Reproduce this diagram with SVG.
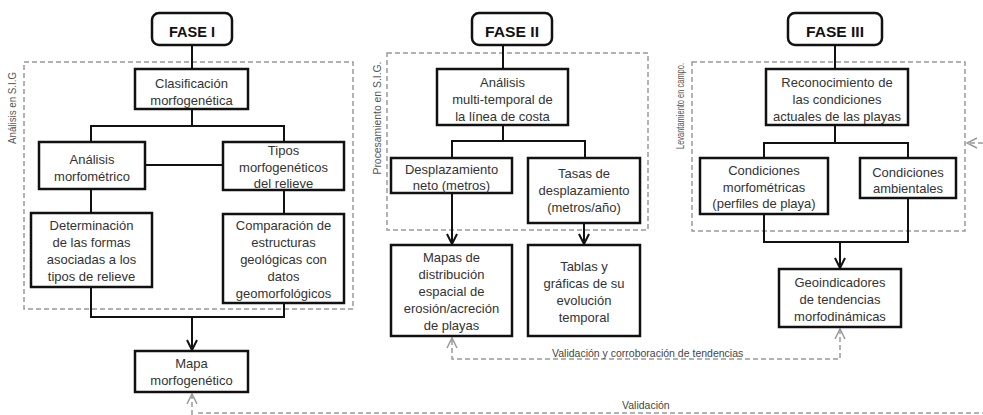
<svg xmlns="http://www.w3.org/2000/svg" width="983" height="415" viewBox="0 0 983 415">
<style>
  .box{fill:#fff;stroke:#111;stroke-width:2.5}
  .phase{fill:#fff;stroke:#111;stroke-width:2.5}
  .t{font-family:"Liberation Sans",Arial,sans-serif;font-size:13px;fill:#333;text-anchor:middle}
  .ph{font-family:"Liberation Sans",Arial,sans-serif;font-size:15.5px;font-weight:bold;fill:#111;text-anchor:middle}
  .lab{font-family:"Liberation Sans",Arial,sans-serif;font-size:10.5px;fill:#555;text-anchor:middle}
  .val{font-family:"Liberation Sans",Arial,sans-serif;font-size:10.5px;fill:#444}
  .con{fill:none;stroke:#111;stroke-width:2}
  .dash{fill:none;stroke:#999;stroke-width:1.5;stroke-dasharray:5 3}
  .frame{fill:none;stroke:#999;stroke-width:1.5;stroke-dasharray:5 3}
</style>
<defs>
  <marker id="arr" viewBox="0 0 12 12" refX="11" refY="6" markerWidth="12" markerHeight="12" orient="auto" markerUnits="userSpaceOnUse">
    <path d="M1,1 L11,6 L1,11" fill="none" stroke="#111" stroke-width="2"/>
  </marker>
  <marker id="garr" viewBox="0 0 12 12" refX="11" refY="6" markerWidth="12" markerHeight="12" orient="auto-start-reverse" markerUnits="userSpaceOnUse">
    <path d="M1,1 L11,6 L1,11" fill="none" stroke="#999" stroke-width="1.5"/>
  </marker>
</defs>
<rect width="983" height="415" fill="#fff"/>

<!-- dashed frames -->
<g id="frames">
  <rect class="frame" x="24" y="62" width="329" height="247"/>
  <rect class="frame" x="387" y="53" width="261" height="177"/>
  <rect class="frame" x="692" y="62" width="273" height="169"/>
  <text class="lab" transform="translate(16,108) rotate(-90)" textLength="72" lengthAdjust="spacingAndGlyphs">Análisis en S.I.G</text>
  <text class="lab" transform="translate(381,118) rotate(-90)" textLength="113" lengthAdjust="spacingAndGlyphs">Procesamiento en S.I.G.</text>
  <text class="lab" transform="translate(684,106) rotate(-90)" textLength="86" lengthAdjust="spacingAndGlyphs">Levantamiento en campo.</text>
</g>

<!-- connectors -->
<g id="connectors">
  <path class="con" d="M192 45 V69"/>
  <path class="con" d="M192 109 V126 M91 142 V126 H284 V142"/>
  <path class="con" d="M145 165 H223"/>
  <path class="con" d="M91 189 V213 M284 190 V214"/>
  <path class="con" d="M91 287 V317 H284 V303"/>
  <path class="con" d="M192 317 V350" marker-end="url(#arr)"/>

  <path class="con" d="M503 45 V69"/>
  <path class="con" d="M503 125 V141 M452 158 V141 H585 V158"/>
  <path class="con" d="M452 193 V244" marker-end="url(#arr)"/>
  <path class="con" d="M584 223 V244" marker-end="url(#arr)"/>

  <path class="con" d="M835 45 V69"/>
  <path class="con" d="M835 125 V143 M764 158 V143 H908 V158"/>
  <path class="con" d="M764 214 V242 H908 V198"/>
  <path class="con" d="M840 242 V268" marker-end="url(#arr)"/>

  <path class="dash" d="M840 329 V359 H452 V338" marker-start="url(#garr)" marker-end="url(#garr)"/>
  <path class="dash" d="M192 415 V394" marker-end="url(#garr)"/>
  <path class="dash" d="M198 413 H983"/>
  <path class="dash" d="M983 143 H967" marker-end="url(#garr)"/>
  <text class="val" x="552" y="357">Validación y corroboración de tendencias</text>
  <text class="val" x="622" y="409">Validación</text>
</g>

<!-- FASE I -->
<g id="fase1">
  <rect class="phase" x="152" y="13" width="80" height="32" rx="7"/>
  <text class="ph" x="192" y="37" textLength="46" lengthAdjust="spacingAndGlyphs">FASE I</text>
</g>
<g id="clasificacion">
  <rect class="box" x="135" y="69" width="113" height="40"/>
  <text class="t" x="191.5" y="88">Clasificación</text>
  <text class="t" x="191.5" y="105">morfogenética</text>
</g>
<g id="analisis-morfometrico">
  <rect class="box" x="39" y="142" width="106" height="47"/>
  <text class="t" x="92" y="164">Análisis</text>
  <text class="t" x="92" y="181">morfométrico</text>
</g>
<g id="tipos">
  <rect class="box" x="223" y="142" width="121" height="48"/>
  <text class="t" x="283.5" y="155">Tipos</text>
  <text class="t" x="283.5" y="172">morfogenéticos</text>
  <text class="t" x="283.5" y="188">del relieve</text>
</g>
<g id="determinacion">
  <rect class="box" x="31" y="213" width="121" height="74"/>
  <text class="t" x="91.5" y="230">Determinación</text>
  <text class="t" x="91.5" y="247">de las formas</text>
  <text class="t" x="91.5" y="264">asociadas a los</text>
  <text class="t" x="91.5" y="281">tipos de relieve</text>
</g>
<g id="comparacion">
  <rect class="box" x="223" y="214" width="121" height="89"/>
  <text class="t" x="283.5" y="230">Comparación de</text>
  <text class="t" x="283.5" y="247">estructuras</text>
  <text class="t" x="283.5" y="264">geológicas con</text>
  <text class="t" x="283.5" y="281">datos</text>
  <text class="t" x="283.5" y="298">geomorfológicos</text>
</g>
<g id="mapa">
  <rect class="box" x="135" y="351" width="113" height="41"/>
  <text class="t" x="191.5" y="368">Mapa</text>
  <text class="t" x="191.5" y="385">morfogenético</text>
</g>

<!-- FASE II -->
<g id="fase2">
  <rect class="phase" x="472" y="13" width="80" height="32" rx="7"/>
  <text class="ph" x="512" y="37" textLength="54" lengthAdjust="spacingAndGlyphs">FASE II</text>
</g>
<g id="analisis-multitemporal">
  <rect class="box" x="437" y="69" width="131" height="56"/>
  <text class="t" x="502.5" y="87">Análisis</text>
  <text class="t" x="502.5" y="104">multi-temporal de</text>
  <text class="t" x="502.5" y="121">la línea de costa</text>
</g>
<g id="desplazamiento">
  <rect class="box" x="391" y="158" width="121" height="35"/>
  <text class="t" x="451.5" y="174">Desplazamiento</text>
  <text class="t" x="451.5" y="190">neto (metros)</text>
</g>
<g id="tasas">
  <rect class="box" x="528" y="158" width="112" height="65"/>
  <text class="t" x="584" y="178">Tasas de</text>
  <text class="t" x="584" y="195">desplazamiento</text>
  <text class="t" x="584" y="212">(metros/año)</text>
</g>
<g id="mapas">
  <rect class="box" x="391" y="245" width="121" height="91"/>
  <text class="t" x="451.5" y="262">Mapas de</text>
  <text class="t" x="451.5" y="279">distribución</text>
  <text class="t" x="451.5" y="296">espacial de</text>
  <text class="t" x="451.5" y="313">erosión/acreción</text>
  <text class="t" x="451.5" y="330">de playas</text>
</g>
<g id="tablas">
  <rect class="box" x="528" y="245" width="112" height="91"/>
  <text class="t" x="584" y="271">Tablas y</text>
  <text class="t" x="584" y="288">gráficas de su</text>
  <text class="t" x="584" y="305">evolución</text>
  <text class="t" x="584" y="322">temporal</text>
</g>

<!-- FASE III -->
<g id="fase3">
  <rect class="phase" x="788" y="13" width="94" height="32" rx="7"/>
  <text class="ph" x="835" y="37" textLength="58" lengthAdjust="spacingAndGlyphs">FASE III</text>
</g>
<g id="reconocimiento">
  <rect class="box" x="766" y="69" width="142" height="56"/>
  <text class="t" x="837" y="87">Reconocimiento de</text>
  <text class="t" x="837" y="104">las condiciones</text>
  <text class="t" x="837" y="121">actuales de las playas</text>
</g>
<g id="cond-morfometricas">
  <rect class="box" x="700" y="158" width="128" height="56"/>
  <text class="t" x="764" y="175">Condiciones</text>
  <text class="t" x="764" y="192">morfométricas</text>
  <text class="t" x="764" y="208">(perfiles de playa)</text>
</g>
<g id="cond-ambientales">
  <rect class="box" x="860" y="158" width="96" height="40"/>
  <text class="t" x="908" y="177">Condiciones</text>
  <text class="t" x="908" y="193">ambientales</text>
</g>
<g id="geoindicadores">
  <rect class="box" x="779" y="269" width="122" height="58"/>
  <text class="t" x="840" y="287">Geoindicadores</text>
  <text class="t" x="840" y="304">de tendencias</text>
  <text class="t" x="840" y="321">morfodinámicas</text>
</g>
</svg>
